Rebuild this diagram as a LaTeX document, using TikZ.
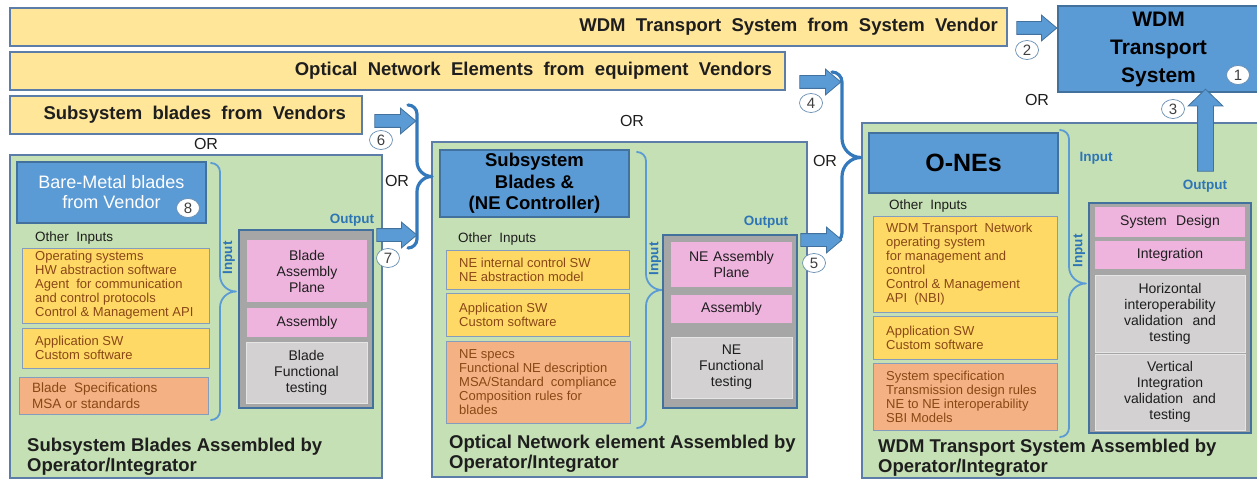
\documentclass[tikz,border=0pt]{standalone}
\usepackage{fontspec}
\setmainfont{Liberation Sans}
\usetikzlibrary{shapes.arrows,shapes.geometric}

\definecolor{barfill}{HTML}{FFE699}
\definecolor{bdr}{HTML}{5B7DA8}
\definecolor{panelfill}{HTML}{C5E0B4}
\definecolor{bluefill}{HTML}{5B9BD5}
\definecolor{blueedge}{HTML}{41719C}
\definecolor{inyellow}{HTML}{FFD966}
\definecolor{inorange}{HTML}{F4B183}
\definecolor{intext}{HTML}{8A4716}
\definecolor{pinkfill}{HTML}{EEB4DE}
\definecolor{greyouter}{HTML}{A6A6A6}
\definecolor{greyinner}{HTML}{D3D1D1}
\definecolor{labelblue}{HTML}{2E75B6}
\definecolor{bracedark}{HTML}{3479BC}
\definecolor{bracelight}{HTML}{5B9BD5}
\definecolor{darktext}{HTML}{1E1E1E}

% rectangle node given by its corners (in px units)
\newcommand\mkbox[7]{%
  \pgfmathsetmacro\bxw{#5-#3}%
  \pgfmathsetmacro\bxh{#6-#4}%
  \pgfmathsetmacro\bxx{(#3+#5)/2}%
  \pgfmathsetmacro\bxy{(#4+#6)/2}%
  \pgfmathsetmacro\bxc{#5-#3-4}%
  \node[#2, minimum width=\bxw pt, minimum height=\bxh pt] (#1) at (\bxx,\bxy) {#7};}

% input box with left-aligned text: [font] name, style, x1, y1, x2, y2, text
\newcommand\mkinbox[8][\fontsize{13}{14}\selectfont]{%
  \mkbox{#2}{#3}{#4}{#5}{#6}{#7}{}%
  \pgfmathsetmacro\ibx{#4+13}%
  \node[intxt, font=#1] (#2t) at (\ibx,\bxy) {#8};}

% horizontal block arrow: name, tail x, tip x, y
\newcommand\harrow[4]{%
  \pgfmathsetmacro\arl{#3-#2}%
  \pgfmathsetmacro\arx{(#2+#3)/2}%
  \node[blockarrow, minimum height=\arl pt] (#1) at (\arx,#4) {};}

% right curly brace: style, x, top y, bottom y, end radius, tip radius
\newcommand\curlyR[6]{%
  \pgfmathsetmacro\cxv{#2+#5}%
  \pgfmathsetmacro\cym{(#3+#4)/2}%
  \draw[#1] (#2,#3) .. controls ({#2+0.55*#5},#3) and (\cxv,{#3+0.45*#5}) .. (\cxv,{#3+#5})
    -- (\cxv,{\cym-#6})
    .. controls (\cxv,{\cym-0.45*#6}) and ({\cxv+0.45*#6},\cym) .. ({\cxv+#6},\cym)
    .. controls ({\cxv+0.45*#6},\cym) and (\cxv,{\cym+0.45*#6}) .. (\cxv,{\cym+#6})
    -- (\cxv,{#4-#5})
    .. controls (\cxv,{#4-0.45*#5}) and ({#2+0.55*#5},#4) .. (#2,#4);}

\begin{document}
\begin{tikzpicture}[x=1pt,y=-1pt,
  bar/.style={draw=bdr, line width=1.6pt, fill=barfill, inner sep=0pt},
  bartext/.style={anchor=east, inner sep=0pt, text=darktext, font=\fontsize{18.5}{20}\selectfont\bfseries},
  panel/.style={draw=bdr, line width=1.6pt, fill=panelfill, inner sep=0pt},
  bluebox/.style={draw=blueedge, line width=1.6pt, fill=bluefill, inner sep=0pt, align=center},
  inbox/.style={draw=bdr!75, line width=0.9pt, inner sep=0pt},
  yel/.style={inbox, fill=inyellow},
  ora/.style={inbox, fill=inorange},
  intxt/.style={anchor=west, inner sep=0pt, align=left, text=intext},
  outergrey/.style={draw=blueedge, line width=2.4pt, fill=greyouter, inner sep=0pt},
  cbox/.style={inner xsep=2pt, inner ysep=0pt, align=center, text width=\bxc pt,
    text=darktext, font=\fontsize{14}{16}\selectfont},
  pinkbox/.style={cbox, fill=pinkfill},
  greybox/.style={cbox, fill=greyinner, draw=white!80!gray, line width=0.8pt},
  blockarrow/.style={single arrow, draw=blueedge, fill=bluefill, line width=0.8pt,
    inner xsep=0pt, inner ysep=6pt, single arrow head extend=6.5pt, single arrow tip angle=80},
  num/.style={ellipse, draw=blueedge!80, line width=0.7pt, fill=white, minimum width=23pt,
    minimum height=19pt, inner sep=0pt, text=black!75, font=\fontsize{15}{15}\selectfont},
  orlbl/.style={inner sep=0pt, text=darktext, font=\fontsize{16}{16}\selectfont},
  iolbl/.style={inner sep=0pt, text=labelblue, font=\fontsize{13.5}{14}\selectfont\bfseries},
  otherlbl/.style={anchor=west, inner sep=0pt, text=darktext, font=\fontsize{13.5}{14}\selectfont},
  paneltitle/.style={anchor=west, inner sep=0pt, align=left, text=darktext,
    font=\fontsize{18.5}{20}\selectfont\bfseries},
  bigbrace/.style={draw=bracedark, line width=3.2pt, line cap=round, line join=round},
  thinbrace/.style={draw=bracelight, line width=1.8pt, line cap=round, line join=round}]

\useasboundingbox (0,0) rectangle (1257,481);
\clip (0,0) rectangle (1257,481);

% ---- vendor supply bars ----
\mkbox{bar1}{bar}{10}{8}{1007}{46}{}
\mkbox{bar2}{bar}{10}{52}{785}{90}{}
\mkbox{bar3}{bar}{10}{96}{362}{134}{}
\node[bartext] (t1) at (998,27) {WDM\ \ Transport\ \ System\ \ from\ \ System\ \ Vendor};
\node[bartext] (t2) at (772,71) {Optical\ \ Network\ \ Elements\ \ from\ \ equipment\ \ Vendors};
\node[bartext] (t3) at (346,115) {Subsystem\ \ blades\ \ from\ \ Vendors};

% ---- target system ----
\mkbox{wdm}{bluebox, text=black, font=\fontsize{21}{28}\selectfont\bfseries}{1058}{6}{1259}{92}{WDM\\Transport\\System}
\node[num] (n1) at (1238,75) {1};

% ---- OR labels ----
\node[orlbl] (or1) at (206,144) {OR};
\node[orlbl] (or2) at (632,121) {OR};
\node[orlbl] (or3) at (1037,100) {OR};
\node[orlbl] (or4) at (397,181) {OR};
\node[orlbl] (or5) at (825,161) {OR};

% ================= panel A: subsystem blades =================
\mkbox{panA}{panel}{10}{155}{382}{478}{}
\mkbox{blueA}{bluebox, text=white, font=\fontsize{18}{20}\selectfont}{17}{162}{206}{223}{Bare-Metal blades\\from Vendor}
\node[num] (n8) at (188,208) {8};
\node[otherlbl] (othA) at (35,238) {Other\ \ Inputs};
\mkinbox{yA1}{yel}{22}{248}{209}{323}{Operating systems\\HW abstraction software\\Agent\ \ for communication\\and control protocols\\Control \& Management API}
\mkinbox{yA2}{yel}{22}{328}{209}{368}{Application SW\\Custom software}
\mkinbox[\fontsize{13.5}{16}\selectfont]{oA}{ora}{19}{377}{208}{414}{Blade\ \ Specifications\\MSA or standards}
\curlyR{thinbrace}{211}{163}{420}{9}{16}
\node[iolbl, rotate=90] (inA) at (229,258) {Input};
\mkbox{gA}{outergrey}{239}{230}{373}{408}{}
\mkbox{pA1}{pinkbox}{247}{240}{367}{302}{Blade\\Assembly\\Plane}
\mkbox{pA2}{pinkbox}{247}{308}{367}{337}{Assembly}
\mkbox{gA3}{greybox}{246}{342}{367}{403}{Blade\\Functional\\testing}
\node[iolbl] (outA) at (352,220) {Output};
\node[paneltitle] (titA) at (27,457) {Subsystem Blades Assembled by\\Operator/Integrator};

% ================= panel B: network element =================
\mkbox{panB}{panel}{432}{142}{807}{477}{}
\mkbox{blueB}{bluebox, text=black, font=\fontsize{18.5}{21.5}\selectfont\bfseries}{440}{150}{629}{217}{Subsystem\\Blades \&\\(NE Controller)}
\node[otherlbl] (othB) at (458,239) {Other\ \ Inputs};
\mkinbox{yB1}{yel}{446}{250}{629}{289}{NE internal control SW\\NE abstraction model}
\mkinbox{yB2}{yel}{446}{293}{629}{336}{Application SW\\Custom software}
\mkinbox{oB}{ora}{446}{341}{630}{423}{NE specs\\Functional NE description\\MSA/Standard\ \ compliance\\Composition rules for\\blades}
\curlyR{thinbrace}{637}{152}{428}{9}{16}
\node[iolbl, rotate=90] (inB) at (655,259) {Input};
\mkbox{gB}{outergrey}{663}{235}{797}{408}{}
\mkbox{pB1}{pinkbox}{671}{242}{792}{287}{NE Assembly\\Plane}
\mkbox{pB2}{pinkbox}{671}{295}{792}{323}{Assembly}
\mkbox{gB3}{greybox}{671}{337}{792}{398}{NE\\Functional\\testing}
\node[iolbl] (outB) at (766,222) {Output};
\node[paneltitle] (titB) at (449,454) {Optical Network element Assembled by\\Operator/Integrator};

% ================= panel C: transport system =================
\mkbox{panC}{panel}{862}{123}{1262}{478}{}
\mkbox{blueC}{bluebox, text=black, font=\fontsize{25}{28}\selectfont\bfseries}{869}{133}{1058}{193}{O-NEs}
\node[iolbl] (inC) at (1096,158) {Input};
\node[iolbl] (outC) at (1205,186) {Output};
\node[otherlbl] (othC) at (889,206) {Other\ \ Inputs};
\mkinbox{yC1}{yel}{873}{216}{1057}{312}{WDM Transport\ \ Network\\operating system\\for management and\\control\\Control \& Management\\API\ \ (NBI)}
\mkinbox{yC2}{yel}{873}{316}{1057}{359}{Application SW\\Custom software}
\mkinbox{oC}{ora}{873}{363}{1057}{430}{System specification\\Transmission design rules\\NE to NE interoperability\\SBI Models}
\curlyR{thinbrace}{1060}{130}{437}{9}{17}
\node[iolbl, rotate=90] (inC2) at (1079,251) {Input};
\mkbox{gC}{outergrey}{1089}{203}{1251}{433}{}
\mkbox{pC1}{pinkbox}{1095}{207}{1245}{237}{System\ \ Design}
\mkbox{pC2}{pinkbox}{1095}{241}{1245}{269}{Integration}
\mkbox{gC3}{greybox}{1095}{275}{1245}{352}{Horizontal\\interoperability\\validation\ \ and\\testing}
\mkbox{gC4}{greybox}{1095}{354}{1245}{430}{Vertical\\Integration\\validation\ \ and\\testing}
\node[paneltitle] (titC) at (878,458) {WDM Transport System Assembled by\\Operator/Integrator};

% ---- alternative paths: braces and block arrows ----
\curlyR{bigbrace}{408}{105}{248}{9}{15}
\curlyR{bigbrace}{832}{72}{243}{10}{19}

\harrow{a2}{1013}{1053}{28}
\harrow{a6}{371}{412}{121}
\harrow{a7}{373}{413}{235}
\harrow{a4}{796}{837}{82}
\harrow{a5}{797}{838}{240}
\node[blockarrow, rotate=90, minimum height=82pt, inner ysep=7.5pt,
  single arrow head extend=9.5pt, single arrow tip angle=92] (a3) at (1205.5,134) {};

\node[num] (n2) at (1027,50) {2};
\node[num] (n3) at (1173,109) {3};
\node[num] (n4) at (811,103) {4};
\node[num] (n5) at (814,263) {5};
\node[num] (n6) at (381,140) {6};
\node[num] (n7) at (388,258) {7};
\end{tikzpicture}
\end{document}
